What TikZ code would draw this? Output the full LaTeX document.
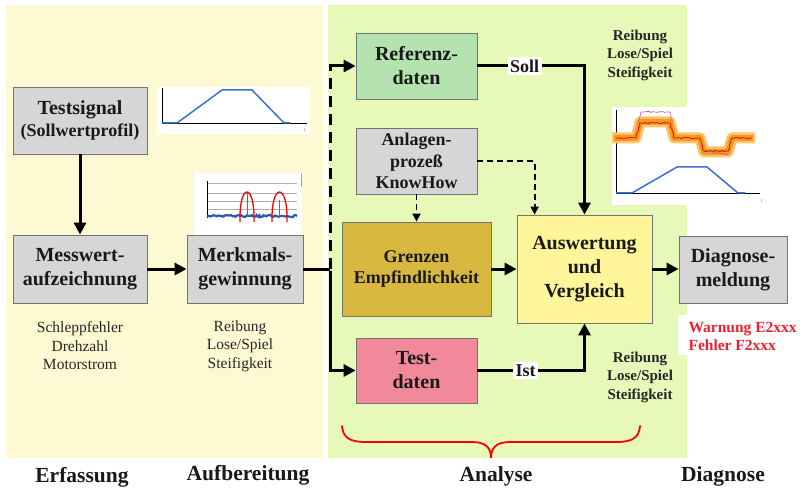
\documentclass[tikz,border=0pt]{standalone}
\usepackage{fontspec}
\setmainfont{Liberation Serif}
\usetikzlibrary{arrows.meta,calc,decorations.pathmorphing}

\definecolor{panelY}{HTML}{FDF9D3}
\definecolor{panelG}{HTML}{E6F9B8}
\definecolor{boxgray}{HTML}{D6D6D6}
\definecolor{refgreen}{HTML}{B5E3B0}
\definecolor{goldbox}{HTML}{D9B840}
\definecolor{auswY}{HTML}{FFF59A}
\definecolor{pinkbox}{HTML}{F2899B}
\definecolor{warnred}{HTML}{EE2030}
\definecolor{plotblue}{HTML}{3A6FD8}
\definecolor{bandout}{HTML}{FBC46E}
\definecolor{bandin}{HTML}{F39A1E}

\begin{document}
\begin{tikzpicture}[x=1pt,y=-1pt,
  box/.style={draw=black!55, line width=0.8pt, inner sep=0pt, align=center, text=black!90,
    font=\bfseries\fontsize{20}{24}\selectfont},
  smallbox/.style={box, font=\bfseries\fontsize{18}{21.5}\selectfont},
  flow/.style={line width=3pt, -{Triangle[length=12pt,width=12pt]}},
  plainline/.style={line width=3pt},
  thindash/.style={line width=1.8pt, dash pattern=on 6pt off 4pt, -{Triangle[length=8pt,width=8pt]}},
  note/.style={align=center, text=black!85, font=\fontsize{15.5}{18.5}\selectfont},
  bnote/.style={align=center, text=black!85, font=\bfseries\fontsize{15}{18.5}\selectfont},
  phase/.style={text=black!90, font=\bfseries\fontsize{21.5}{24}\selectfont},
  lbl/.style={fill=white, inner sep=2.5pt, text=black!90, font=\bfseries\fontsize{18}{20}\selectfont},
  ax/.style={black, line width=0.7pt},
  tinyt/.style={text=black!60, font=\fontsize{5}{5}\selectfont, inner sep=0pt}
]
\useasboundingbox (0,0) rectangle (800,489);
\fill[white] (0,0) rectangle (800,489);

% panels
\fill[panelY] (6,5) rectangle (323,458);
\fill[panelG] (328,5) rectangle (687,458);

% ---- chart: test signal profile
\fill[white] (157,87) rectangle (310,134);
\draw[ax] (162,88) -- (162,123) -- (307,123);
\draw[plotblue, line width=1.5pt] (162,123) -- (177,123) -- (222,90) -- (252,90) -- (284,123) -- (290,123);
\node[tinyt] at (305,130) {t};

% ---- chart: Merkmalsgewinnung
\fill[white] (194,173) rectangle (302,235);
\draw[gray!70, line width=0.8pt] (301,173) -- (301,187);
\foreach \yy in {183,193,201,209} \draw[gray!60, line width=0.5pt] (207,\yy) -- (297,\yy);
\draw[ax] (207,181) -- (207,218);
\pgfmathsetseed{7}
\draw[plotblue!80!black, line width=2.2pt, decorate, decoration={random steps, segment length=1.5pt, amplitude=1pt}] (207,216) -- (297,216);
\draw[plotblue, line width=1pt] (247,216) -- (247,193) (279,216) -- (279,200);
\draw[red, line width=1.3pt] (240,222) .. controls (239,182) and (255,182) .. (254,222);
\draw[red, line width=1.3pt] (272,222) .. controls (271,182) and (288,182) .. (287,222);

% ---- chart: comparison
\fill[white] (612,107) rectangle (763,205);
\draw[ax] (616,110) -- (616,193) -- (760,193);
\draw[plotblue, line width=1.5pt] (616,193) -- (632,193) -- (677,167) -- (707,167) -- (738,193) -- (745,193);
\draw[bandout, line width=11pt, line join=round] (612,138) -- (636,138) -- (640,122) -- (670,122) -- (674,138) -- (700,138) -- (704,152) -- (728,152) -- (732,138) -- (755,138);
\draw[bandin, line width=6pt, line join=round] (614,138) -- (636,138) -- (640,122) -- (670,122) -- (674,138) -- (700,138) -- (704,152) -- (728,152) -- (732,138) -- (753,138);
\pgfmathsetseed{11}
\draw[red!85!black, line width=0.7pt, decorate, decoration={random steps, segment length=2pt, amplitude=0.8pt}] (616,138) -- (636,138) -- (640,123) -- (670,123) -- (674,138) -- (700,138) -- (704,151) -- (728,151) -- (732,138) -- (752,138);
\draw[magenta!70!black!80, line width=0.6pt, decorate, decoration={random steps, segment length=2pt, amplitude=0.6pt}] (639,122) -- (641,112) -- (670,112) -- (672,122);
\draw[magenta!70!black!80, line width=0.6pt] (703,150) -- (728,155);
\node[tinyt] at (762,201) {t};

% ---- white strip behind warning text
\fill[white] (678,315) rectangle (800,355);

% ---- nodes
\node[box, fill=boxgray, minimum width=134pt, minimum height=67pt] (test) at (80,120.5)
  {Testsignal\\[-2pt]{\fontsize{18}{20}\selectfont(Sollwertprofil)}};
\node[box, fill=boxgray, minimum width=134pt, minimum height=68pt] (mess) at (80,269) {Messwert-\\aufzeichnung};
\node[box, fill=boxgray, minimum width=116pt, minimum height=68pt] (merk) at (245,269) {Merkmals-\\gewinnung};
\node[box, fill=refgreen, minimum width=121pt, minimum height=66pt] (ref) at (416.5,66) {Referenz-\\daten};
\node[smallbox, fill=boxgray, minimum width=121pt, minimum height=66pt] (anl) at (416.5,161) {Anlagen-\\prozeß\\KnowHow};
\node[smallbox, fill=goldbox, minimum width=149pt, minimum height=94pt] (gren) at (416.5,269) {Grenzen\\Empfindlichkeit};
\node[box, fill=auswY, minimum width=135pt, minimum height=108pt] (ausw) at (584.5,269) {Auswertung\\und\\Vergleich};
\node[box, fill=boxgray, minimum width=108pt, minimum height=67pt] (diag) at (733,269.5) {Diagnose-\\meldung};
\node[box, fill=pinkbox, minimum width=121pt, minimum height=65pt] (testd) at (416.5,370.5) {Test-\\daten};

% ---- connectors
\coordinate (jn) at (330,269);
\coordinate (jr) at (jn |- ref.west);
\coordinate (jt) at (jn |- testd.west);
\coordinate (kwin) at ($(ausw.north west)+(18,0)$);

\draw[flow] (test.south) -- (mess.north);
\draw[flow] (mess.east) -- (merk.east -| merk.west);
\draw[plainline] (merk.east) -- (jn);
\draw[line width=3pt, dash pattern=on 11pt off 7pt] (jn) -- (jr);
\draw[flow] ([xshift=-1.5pt]jr) -- (ref.west);
\draw[plainline] ([yshift=-1.5pt]jn) -- (jt);
\draw[flow] ([xshift=-1.5pt]jt) -- (testd.west);
\draw[flow] (ref.east) -| (ausw.north);
\node[lbl] (soll) at ($(ref.east)!0.44!(ref.east -| ausw.north)$) {Soll};
\draw[flow] (testd.east) -| (ausw.south);
\node[lbl] (ist) at ($(testd.east)!0.45!(testd.east -| ausw.south)$) {Ist};
\draw[thindash] (anl.south) -- (gren.north);
\draw[thindash] (anl.east) -| (kwin);
\draw[flow] (gren.east) -- (ausw.west);
\draw[flow] (ausw.east) -- (diag.west |- ausw.east);

% ---- annotations
\node[note] (n1) at (80,346) {Schleppfehler\\Drehzahl\\Motorstrom};
\node[note] (n2) at (240,346) {Reibung\\Lose/Spiel\\Steifigkeit};
\node[bnote] (n3) at (640,55) {Reibung\\Lose/Spiel\\Steifigkeit};
\node[bnote] (n4) at (640,377) {Reibung\\Lose/Spiel\\Steifigkeit};
\node[align=left, anchor=west, text=warnred, font=\bfseries\fontsize{15.5}{18}\selectfont] (warn) at (685,336) {Warnung E2xxx\\Fehler F2xxx};

% ---- brace
\draw[red, line width=1.8pt, line cap=round]
  (342,426) .. controls (343,438) and (350,442) .. (366,442) -- (472,442)
  .. controls (486,442) and (491,448) .. (491,458)
  .. controls (491,448) and (496,442) .. (510,442) -- (616,442)
  .. controls (632,442) and (639,438) .. (640,426);

% ---- phase labels
\node[phase] (p1) at (82,477) {Erfassung};
\node[phase] (p2) at (248,475) {Aufbereitung};
\node[phase] (p3) at (496,476) {Analyse};
\node[phase] (p4) at (723,476) {Diagnose};
\end{tikzpicture}
\end{document}
